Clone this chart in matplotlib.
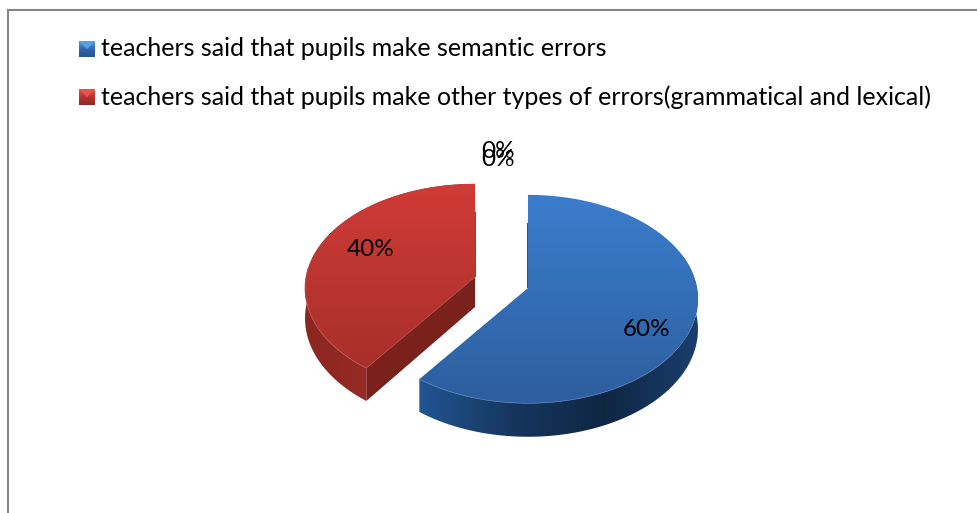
import numpy as np
import matplotlib
matplotlib.use('Agg')
import matplotlib.pyplot as plt
from matplotlib.colors import LinearSegmentedColormap
from matplotlib.patches import PathPatch, Polygon
from matplotlib.path import Path

labels = ['teachers said that pupils make semantic errors',
          'teachers said that pupils make other types of errors(grammatical and lexical)']
shares = [60, 40, 0, 0]

plt.rcParams['font.family'] = ['Lato', 'DejaVu Sans']

fig = plt.figure(figsize=(9.78, 5.13), dpi=100)
ax = fig.add_axes([0, 0, 1, 1])
ax.set_xlim(0, 978)
ax.set_ylim(513, 0)
ax.axis('off')

# pie shape, in pixels
rx = 169
ry = 103
persp = 0.106
depth = 30


def project(theta, cx, cy, drop=0):
    # theta is clockwise from 12 o'clock
    w = 1 + persp * np.cos(theta)
    x = cx + rx * np.sin(theta) / w
    y = cy - ry * np.cos(theta) / w + drop / w
    return x, y


def fill_gradient(verts, colours, zorder, vertical=True):
    verts = np.array(verts)
    path = Path(np.vstack([verts, verts[0]]), closed=True)
    patch = PathPatch(path, facecolor='none', edgecolor='none', zorder=zorder)
    ax.add_patch(patch)
    cmap = LinearSegmentedColormap.from_list('g', colours)
    grad = np.linspace(0, 1, 200).reshape(-1, 1)
    if not vertical:
        grad = grad.T
    x0, y0 = verts.min(axis=0)
    x1, y1 = verts.max(axis=0)
    im = ax.imshow(grad, cmap=cmap, extent=(x0, x1, y1, y0), aspect='auto',
                   origin='upper', zorder=zorder, vmin=0, vmax=1)
    im.set_clip_path(patch)


def slice_arc(start, end, n=120):
    return np.radians(np.linspace(start, end, n))


total = sum(shares)
blue_end = 360 * shares[0] / total
red_end = blue_end + 360 * shares[1] / total

blue_c = (528, 288)
red_c = (475, 277)

# red slice
t = slice_arc(blue_end, red_end)
tx, ty = project(t, *red_c)
bx, by = project(t, *red_c, drop=depth)
wall = list(zip(tx, ty)) + list(zip(bx[::-1], by[::-1]))
fill_gradient(wall, ['#8a2620', '#9c2c26', '#7e231e'], 2, vertical=False)
ax.add_patch(Polygon([(red_c[0], red_c[1]), (tx[0], ty[0]), (bx[0], by[0]),
                      (red_c[0], red_c[1] + depth)], closed=True,
                     facecolor='#7a211c', edgecolor='none', zorder=3))
ax.add_patch(Polygon([(tx[-1], ty[-1] + 28), (tx[-1] + 1.2, ty[-1] + 28), (red_c[0] + 1.2, red_c[1]),
                      red_c], closed=True, facecolor='#7a4a48', edgecolor='none', zorder=1))
top = list(zip(tx, ty)) + [red_c]
fill_gradient(top, ['#d03b37', '#a82f2a'], 4)
ax.plot(tx[:50], ty[:50], color='#bd5650', lw=0.6, zorder=5)
ax.plot([tx[0], red_c[0]], [ty[0], red_c[1]], color='#b04a44', lw=0.5, zorder=5)

# blue slice
t = slice_arc(0, blue_end)
tx, ty = project(t, *blue_c)
bx, by = project(t, *blue_c, drop=depth)
front = t > np.radians(70)
wall = list(zip(tx[front], ty[front])) + list(zip(bx[front][::-1], by[front][::-1]))
fill_gradient(wall, ['#215491', '#16365f', '#0f2643', '#1a3e6c'], 2, vertical=False)
ax.add_patch(Polygon([(tx[0], ty[0] + 28), blue_c, (blue_c[0] - 1.5, blue_c[1]),
                      (tx[0] - 1.5, ty[0] + 28)], closed=True,
                     facecolor='#3d5068', edgecolor='none', zorder=1))
top = list(zip(tx, ty)) + [blue_c]
fill_gradient(top, ['#3b7dcd', '#2d5e9e'], 4)
ax.plot(tx[70:], ty[70:], color='#4f7cb3', lw=0.6, zorder=5)

# data labels
ax.text(647, 330, '%d%%' % shares[0], fontsize=17.5, color='black', ha='center', va='center', zorder=6)
ax.text(371, 250, '%d%%' % shares[1], fontsize=17.5, color='black', ha='center', va='center', zorder=6)
ax.text(498, 152, '%d%%' % shares[2], fontsize=17.5, color='black', ha='center', va='center', zorder=6)
ax.text(498, 160, '%d%%' % shares[3], fontsize=17.5, color='black', ha='center', va='center', zorder=6)

# legend
legend_y = [49, 97]
legend_cols = [['#5aa0e6', '#2f67ad', '#26548f'], ['#e8534e', '#b8332e', '#8f2823']]
for y, lab, cols in zip(legend_y, labels, legend_cols):
    fill_gradient([(79, y - 8), (95, y - 8), (95, y + 8), (79, y + 8)], cols, 4)
    ax.add_patch(Polygon([(80, y - 7), (94, y - 7), (87, y)], closed=True,
                         facecolor=cols[0], edgecolor='none', zorder=5))
    ax.text(101, y, lab, fontsize=18, color='black', ha='left', va='center', zorder=6)

# chart frame, only top and left survive in the crop
ax.plot([7.5, 7.5], [513, 9.5], color='#868686', lw=1.5, zorder=7, solid_capstyle='projecting')
ax.plot([7.5, 978], [9.5, 9.5], color='#868686', lw=1.5, zorder=7, solid_capstyle='projecting')

ax.set_xlim(0, 978)
ax.set_ylim(513, 0)
plt.savefig('out.png', dpi=100)
